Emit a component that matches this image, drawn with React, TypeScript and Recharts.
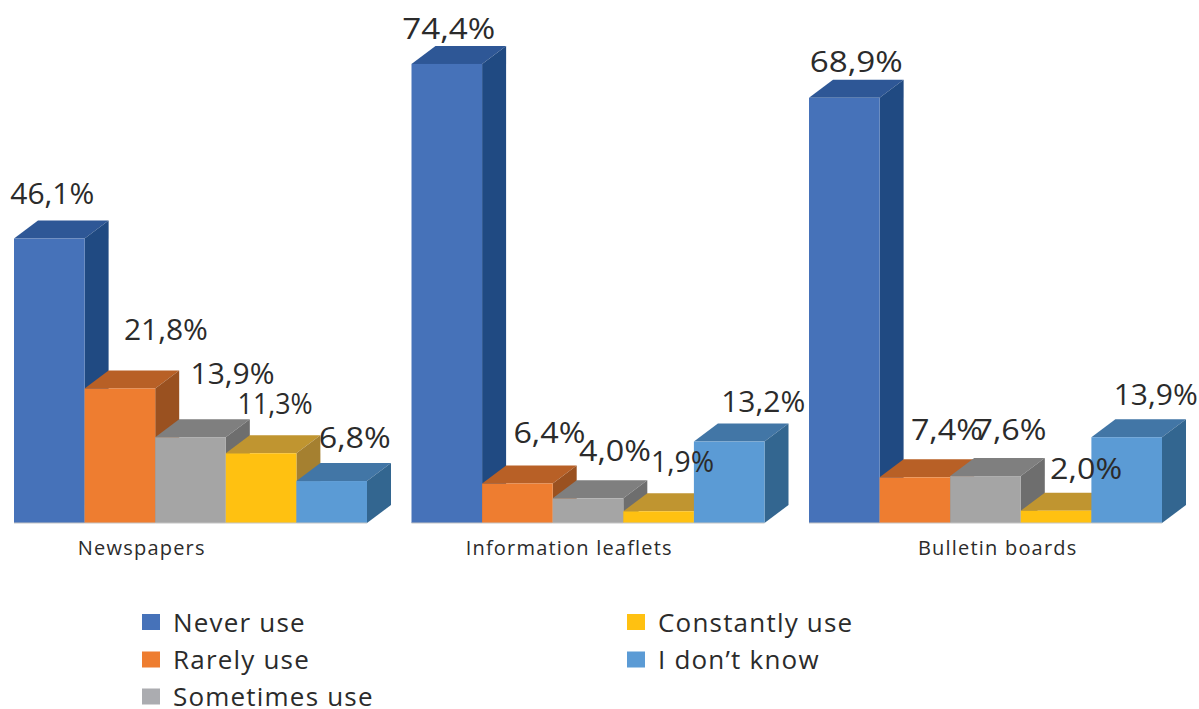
import React from "react";
import { BarChart, Bar, XAxis, YAxis, Legend, LabelList } from "recharts";

const categories = ["Newspapers", "Information leaflets", "Bulletin boards"];
const neverUse = [46.1, 74.4, 68.9];
const rarelyUse = [21.8, 6.4, 7.4];
const sometimesUse = [13.9, 4.0, 7.6];
const constantlyUse = [11.3, 1.9, 2.0];
const dontKnow = [6.8, 13.2, 13.9];

const rows = categories.map((name, i) => ({
  name,
  never: neverUse[i],
  rarely: rarelyUse[i],
  sometimes: sometimesUse[i],
  constantly: constantlyUse[i],
  dontKnow: dontKnow[i],
}));

const FONT = "'Open Sans', sans-serif";
const INK = "#2b2b2b";
const DX = 24;
const DY = 18;

// Hand-placed label nudges as in the reference (per category), relative to the bar's top centre.
const seriesStyles = [
  { key: "never", name: "Never use", front: "#4672B9", top: "#2E5796", side: "#204A82", swatch: "#4672B9", nudge: [[3, -46], [2, -36], [12, -37]] },
  { key: "rarely", name: "Rarely use", front: "#EE7D30", top: "#B86026", side: "#9A5120", swatch: "#EE7D30", nudge: [[46, -59], [32, -52], [32, -48]] },
  { key: "sometimes", name: "Sometimes use", front: "#A5A5A5", top: "#7F7F7F", side: "#6E6E6E", swatch: "#ABACB0", nudge: [[42, -64], [27, -48], [25, -47]] },
  { key: "constantly", name: "Constantly use", front: "#FFC111", top: "#C09530", side: "#A58030", swatch: "#FFC111", nudge: [[14, -50], [24, -50], [30, -43]] },
  { key: "dontKnow", name: "I don\u2019t know", front: "#5B9BD5", top: "#4276A6", side: "#336690", swatch: "#5B9BD5", nudge: [[23, -44], [34, -41], [29, -43]] },
];
const tickNudge = [-49, -19, 12];

// The reference's typeface has proportional figures: a narrow "1", wider others.
function labelWidth(text: string) {
  let w = 30; // comma and percent sign
  for (const ch of text) {
    if (ch === "1") w += 12;
    else if (ch >= "0" && ch <= "9") w += 21;
  }
  return w;
}

function Box3D(props: any) {
  const { x, y, width, height, s } = props;
  const r = x + width;
  const b = y + height;
  return (
    <g>
      <polygon points={`${x},${y} ${x + DX},${y - DY} ${r + DX},${y - DY} ${r},${y}`} fill={s.top} />
      <polygon points={`${r},${y} ${r + DX},${y - DY} ${r + DX},${b - DY} ${r},${b}`} fill={s.side} />
      <rect x={x} y={y} width={width} height={height} fill={s.front} />
      <line x1={x} y1={b} x2={r} y2={b} stroke="#c4c4c4" strokeWidth={1} />
    </g>
  );
}

function CategoryTick(props: any) {
  const { x, y, payload, index } = props;
  return (
    <text x={x + tickNudge[index]} y={y} dy={1} textAnchor="middle" fontFamily={FONT} fontSize={20} letterSpacing={1.2} fill={INK}>
      {payload.value}
    </text>
  );
}

function LegendBlock(props: any) {
  const items: any[] = props.payload || [];
  const pos = [
    [142, 622], [142, 659.5], [142, 696.5], [627, 622], [627, 659.5],
  ];
  return (
    <svg width={1199} height={709} style={{ display: "block" }}>
      {items.map((it, i) => {
        const s = seriesStyles.find((v) => v.name === it.value) || seriesStyles[i];
        return (
          <g key={it.value}>
            <rect x={pos[i][0]} y={pos[i][1] - 8} width={18} height={16} fill={s.swatch} />
            <text x={pos[i][0] + 31} y={pos[i][1] + 9.5} fontFamily={FONT} fontSize={26} letterSpacing={1.2} fill={INK}>
              {it.value}
            </text>
          </g>
        );
      })}
    </svg>
  );
}

export default function App() {
  return (
    <div style={{ position: "absolute", left: -8, top: 0, width: 1207, height: 709, overflow: "hidden" }}>
      <BarChart
        width={1207}
        height={709}
        data={rows}
        margin={{ top: 0, right: 14.5, bottom: 146, left: 0 }}
        barSize={70.6}
        barGap={0}
      >
        <XAxis
          dataKey="name"
          axisLine={false}
          tickLine={false}
          interval={0}
          tick={<CategoryTick />}
          tickMargin={25}
          height={40}
        />
        <YAxis hide domain={[0, 84.76]} />
        <Legend
          content={<LegendBlock />}
          layout="horizontal"
          verticalAlign="middle"
          align="center"
          itemSorter={null}
          wrapperStyle={{ left: 8, top: 0, width: 1199, height: 709, pointerEvents: "none" }}
        />
        {seriesStyles.map((s) => (
          <Bar
            key={s.key}
            dataKey={s.key}
            name={s.name}
            fill={s.front}
            isAnimationActive={false}
            shape={(p: any) => <Box3D {...p} s={s} />}
          >
            <LabelList
              dataKey={s.key}
              content={(p: any) => {
                const n = s.nudge[p.index];
                const text = Number(p.value).toFixed(1).replace(".", ",") + "%";
                return (
                  <text
                    x={p.x + p.width / 2 + n[0]}
                    y={p.y + n[1] + 11}
                    textAnchor="middle"
                    fontFamily={FONT}
                    fontSize={30}
                    fill={INK}
                    textLength={labelWidth(text)}
                    lengthAdjust="spacingAndGlyphs"
                  >
                    {text}
                  </text>
                );
              }}
            />
          </Bar>
        ))}
      </BarChart>
    </div>
  );
}
